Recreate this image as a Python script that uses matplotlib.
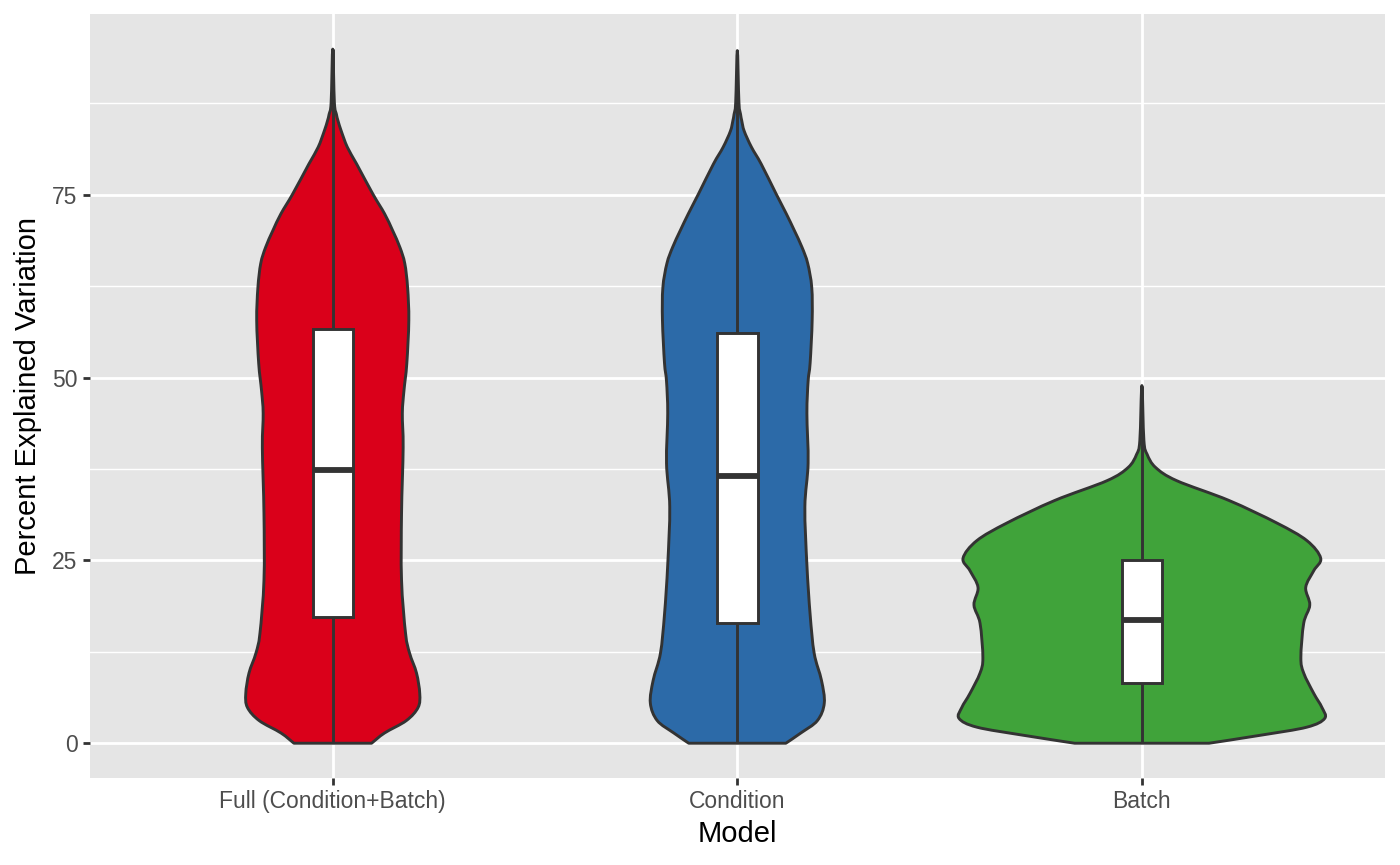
import numpy as np
import matplotlib.pyplot as plt
from matplotlib.patches import Rectangle, PathPatch
from matplotlib.path import Path

# 数据：类别、小提琴轮廓（y值 与 半宽度）、箱线图统计量
models = ["Full (Condition+Batch)", "Condition", "Batch"]
colors = ["#DA001A", "#2C6AA8", "#40A33A"]

full_y = [0, 1.4, 3.1, 4.9, 6.8, 9.6, 12.3, 15.0, 22.3, 31.4, 40.4, 45.1, 48.2,
          51.9, 57.8, 62.3, 65.6, 67.8, 70.1, 72.4, 75.1, 79.2, 81.5, 83.7, 85.1,
          86.0, 87.6, 94.9]
full_hw = [0.096, 0.128, 0.182, 0.211, 0.215, 0.207, 0.190, 0.180, 0.170, 0.170,
           0.174, 0.172, 0.176, 0.183, 0.188, 0.185, 0.178, 0.166, 0.148, 0.128,
           0.099, 0.059, 0.036, 0.021, 0.013, 0.009, 0.004, 0.0]

cond_y = [0, 1.4, 3.1, 5.5, 8.6, 12.3, 17.6, 24.4, 32.3, 38.3, 45.1, 49.5, 52.0,
          57.8, 62.3, 65.6, 67.8, 70.1, 72.4, 75.1, 79.2, 81.5, 83.7, 85.1, 86.0,
          87.6, 94.7]
cond_hw = [0.120, 0.157, 0.198, 0.215, 0.208, 0.190, 0.180, 0.172, 0.167, 0.175,
           0.172, 0.175, 0.180, 0.185, 0.184, 0.174, 0.160, 0.141, 0.121, 0.096,
           0.059, 0.035, 0.017, 0.011, 0.008, 0.004, 0.0]

batch_y = [0, 1.1, 2.2, 3.4, 4.9, 6.8, 9.6, 11.7, 16.4, 18.9, 21.3, 23.6, 25.3,
           27.7, 30.1, 33.2, 35.9, 37.7, 39.5, 41.4, 48.9]
batch_hw = [0.166, 0.294, 0.408, 0.452, 0.445, 0.425, 0.400, 0.393, 0.400, 0.415,
            0.405, 0.425, 0.442, 0.408, 0.334, 0.215, 0.086, 0.034, 0.013, 0.005,
            0.0]

# 箱线图：min, q1, median, q3, max
box_min = [0, 0, 0]
box_q1 = [17.2, 16.4, 8.2]
box_med = [37.3, 36.6, 16.9]
box_q3 = [56.6, 56.1, 25.1]
box_max = [94.9, 94.7, 48.9]

yticks = [0, 25, 50, 75]

outlines = [(full_y, full_hw), (cond_y, cond_hw), (batch_y, batch_hw)]


def smooth_outline(pts):
    # 用 Catmull-Rom 转三次贝塞尔，让轮廓平滑
    pts = np.asarray(pts, dtype=float)
    verts = [pts[0]]
    codes = [Path.MOVETO]
    n = len(pts)
    for k in range(n - 1):
        p0 = pts[k - 1] if k > 0 else pts[k]
        p1 = pts[k]
        p2 = pts[k + 1]
        p3 = pts[k + 2] if k + 2 < n else pts[k + 1]
        c1 = p1 + (p2 - p0) / 6.0
        c2 = p2 - (p3 - p1) / 6.0
        verts += [c1, c2, p2]
        codes += [Path.CURVE4] * 3
    verts.append(pts[0])
    codes.append(Path.CLOSEPOLY)
    return Path(verts, codes)


plt.rcParams['font.family'] = ['Liberation Sans', 'DejaVu Sans']

fig = plt.figure(figsize=(14, 8.65), dpi=100)
ax = fig.add_axes([0.0643, 0.1006, 0.9247, 0.8832])
ax.set_facecolor("#E5E5E5")

edge = "#333333"
lw = 2.1
for i, (yy, hw) in enumerate(outlines):
    c = i + 1
    yy = np.array(yy)
    hw = np.array(hw)
    right = np.column_stack([c + hw, yy])
    # 顶点只保留一次，避免曲线在尖端上冲
    left = np.column_stack([c - hw, yy])[::-1][1:]
    pts = np.vstack([right, left])
    ax.add_patch(PathPatch(smooth_outline(pts), facecolor=colors[i],
                           edgecolor=edge, lw=lw, joinstyle="round", zorder=2))
    # 须线
    ax.plot([c, c], [box_min[i], box_q1[i]], color=edge, lw=lw, zorder=3,
            solid_capstyle="butt")
    ax.plot([c, c], [box_q3[i], box_max[i]], color=edge, lw=lw, zorder=3,
            solid_capstyle="butt")
    # 箱体
    ax.add_patch(Rectangle((c - 0.05, box_q1[i]), 0.1, box_q3[i] - box_q1[i],
                           facecolor="white", edgecolor=edge, lw=lw, zorder=4))
    ax.plot([c - 0.05, c + 0.05], [box_med[i], box_med[i]], color=edge,
            lw=4.2, zorder=5, solid_capstyle="butt")

ax.set_xlim(0.4, 3.6)
ax.set_ylim(-4.75, 99.7)
ax.set_xticks([1, 2, 3])
ax.set_xticklabels(models)
ax.set_yticks(yticks)
ax.set_yticks([12.5, 37.5, 62.5, 87.5], minor=True)
ax.grid(True, which="major", color="white", lw=2.0, zorder=0)
ax.grid(True, which="minor", axis="y", color="white", lw=1.0, zorder=0)
ax.set_axisbelow(True)
for s in ax.spines.values():
    s.set_visible(False)
ax.tick_params(axis="both", which="major", length=5, width=2.0, color="#333333",
               labelsize=16.5, labelcolor="#4D4D4D", pad=4)
ax.tick_params(axis="y", which="minor", length=0)

ax.set_xlabel("Model", fontsize=21, labelpad=5)
ax.set_ylabel("Percent Explained Variation", fontsize=21, labelpad=7)

plt.savefig("out.png", dpi=100)
